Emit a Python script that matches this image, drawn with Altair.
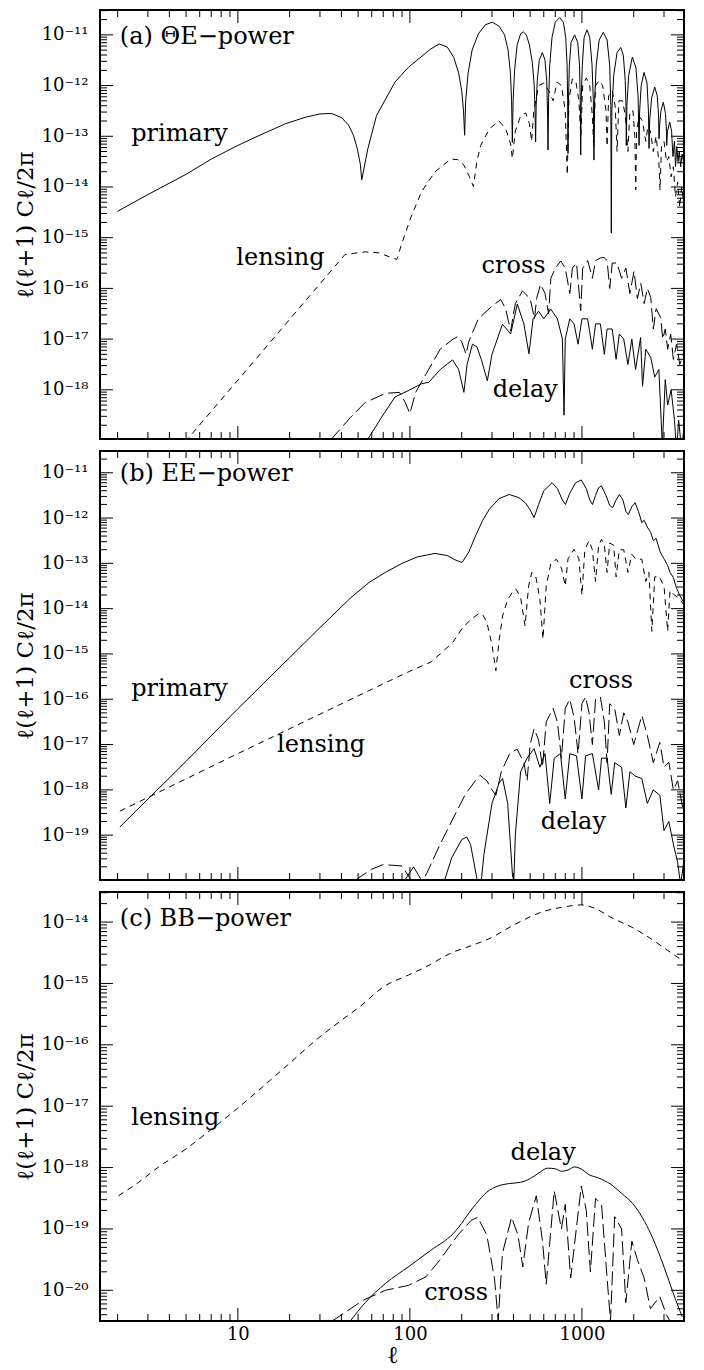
import altair as alt
import pandas as pd

FONT = "DejaVu Serif"
W, H = 584, 429
X_DOMAIN = [1.58, 3920]
Y_LOG_DOMAINS = {"a": (-18.97, -10.51), "b": (-19.99, -10.52), "c": (-20.5, -13.51)}

# ---------------- Panel (a) ThetaE ----------------
a_pri_l = [2, 3, 5, 7, 10, 14, 19, 25, 30, 35, 40, 44, 47, 49.5, 51.5, 52.5,
           57, 64, 82, 98, 132, 148, 165, 180, 192, 200, 205, 208,
           211, 218, 230, 250, 275, 301, 330, 355, 372, 384, 390, 394,
           398, 406, 420, 440, 456, 475, 495, 515, 528, 534, 538,
           542, 550, 565, 589, 610, 624, 631, 635,
           640, 650, 670, 700, 743, 780, 805, 820, 826, 830,
           835, 845, 865, 907, 945, 968, 978, 984,
           990, 1005, 1030, 1070, 1110, 1145, 1165, 1175,
           1185, 1210, 1260, 1330, 1400, 1450, 1472, 1482,
           1492, 1530, 1600, 1680, 1740, 1785, 1803, 1811,
           1825, 1870, 1963, 2060, 2120, 2148,
           2165, 2210, 2296, 2390, 2435, 2455,
           2475, 2540, 2649, 2740, 2790, 2806,
           2825, 2880, 2972, 3060, 3100, 3110,
           3140, 3237, 3320, 3380, 3450, 3500, 3560, 3620, 3680, 3750, 3820, 3900]
a_pri_v = [-14.48, -14.15, -13.75, -13.45, -13.18, -12.95, -12.75, -12.62, -12.56, -12.55, -12.63, -12.78, -12.98, -13.25, -13.55, -13.86,
           -13.24, -12.59, -11.93, -11.64, -11.28, -11.18, -11.24, -11.45, -11.75, -12.1, -12.5, -12.98,
           -12.3, -11.75, -11.3, -10.98, -10.8, -10.75, -10.83, -11.0, -11.3, -11.75, -12.3, -13.12,
           -12.3, -11.7, -11.2, -10.98, -10.94, -11.0, -11.2, -11.55, -12.0, -12.5, -13.11,
           -12.4, -11.9, -11.5, -11.35, -11.5, -11.9, -12.5, -13.27,
           -12.3, -11.6, -11.05, -10.75, -10.66, -10.75, -11.05, -11.6, -12.3, -13.34,
           -12.3, -11.6, -11.15, -11.0, -11.15, -11.6, -12.3, -13.37,
           -12.3, -11.6, -11.05, -10.9, -11.05, -11.6, -12.3, -13.47,
           -12.3, -11.6, -11.1, -10.95, -11.1, -11.6, -12.4, -14.91,
           -12.5, -11.8, -11.35, -11.25, -11.4, -11.9, -12.4, -13.18,
           -12.4, -11.8, -11.44, -11.65, -12.2, -13.18,
           -12.5, -12.0, -11.74, -11.95, -12.5, -13.24,
           -12.7, -12.25, -12.03, -12.2, -12.6, -13.05,
           -12.8, -12.5, -12.33, -12.55, -12.9, -13.18,
           -12.9, -12.72, -12.9, -13.4, -13.1, -13.6, -13.2, -13.5, -13.3, -13.6, -13.35, -13.5]

a_len_l = [4.5, 5.1, 10, 20, 42, 55, 66, 84, 90, 101, 117, 140, 173, 190, 206, 222, 234, 245, 258, 290, 330, 360, 385, 394,
           410, 440, 471, 495, 510, 525, 560, 600, 640, 680, 717, 760, 800, 822, 840, 879, 920, 960, 985, 1010, 1060,
           1110, 1150, 1170, 1200, 1260, 1320, 1380, 1400, 1430, 1500, 1560, 1600, 1640, 1720, 1790, 1850, 1900, 1980,
           2030, 2055, 2080, 2150, 2250, 2350, 2420, 2500, 2600, 2700, 2800, 2844, 2900, 3000, 3100, 3200, 3300, 3400,
           3500, 3600, 3700, 3800, 3900]
a_len_v = [-19.2, -18.97, -17.81, -16.61, -15.33, -15.28, -15.30, -15.43, -15.1, -14.61, -14.09, -13.7, -13.45, -13.46, -13.57, -13.8, -13.99, -13.5, -13.18, -12.85, -12.7, -12.85, -13.15, -13.44,
           -12.9, -12.6, -12.54, -12.75, -13.1, -12.5, -12.0, -11.95, -12.1, -12.3, -11.93, -12.0, -12.5, -13.76, -12.3, -11.87, -11.9, -12.3, -13.0, -12.0, -11.85,
           -12.0, -12.6, -13.2, -12.0, -11.9, -12.0, -12.5, -13.2, -12.2, -12.1, -12.4, -13.3, -12.3, -12.3, -12.6, -13.3, -12.5, -12.5,
           -13.0, -14.06, -12.9, -12.6, -12.7, -13.1, -12.8, -12.9, -13.3, -13.0, -13.5, -14.06, -13.2, -13.1, -13.5, -13.4, -13.8, -13.6,
           -14.2, -13.9, -14.4, -14.0, -14.3]

a_cro_l = [30, 35, 45, 55, 72, 87, 94, 100, 108, 124, 150, 178, 190, 200, 212, 220, 250, 300, 337, 360, 385, 410, 451, 500,
           530, 545, 575, 610, 640, 660, 700, 753, 800, 850, 880, 930, 984, 1010, 1080, 1150, 1200, 1280, 1343, 1400,
           1450, 1500, 1600, 1700, 1800, 1900, 2009, 2100, 2200, 2300, 2400, 2512, 2600, 2700, 2871, 2950, 3050, 3150,
           3280, 3400, 3550, 3700, 3900]
a_cro_v = [-19.3, -18.97, -18.55, -18.25, -18.07, -18.05, -18.25, -18.47, -18.05, -17.69, -17.2, -17.0, -16.95, -17.05, -17.3, -17.05, -16.6, -16.35, -16.22, -16.4, -16.84, -16.3, -16.05, -16.2,
           -16.6, -16.2, -15.92, -16.1, -16.5, -15.8, -15.6, -15.46, -15.6, -16.1, -15.6, -15.5, -16.44, -15.6, -15.45, -15.8, -15.45, -15.4, -15.39, -15.45,
           -16.0, -15.5, -15.5, -15.8, -15.6, -16.1, -15.66, -16.2, -15.9, -16.3, -16.0, -16.18, -16.8, -16.4, -16.58, -17.0, -16.8, -17.2,
           -16.9, -17.4, -17.1, -17.5, -17.3]

a_del_l = [50, 57, 70.6, 82, 100, 117, 129, 150, 177, 192, 206, 215, 231, 245, 260, 282, 300, 345, 365, 385, 421, 460, 492,
           520, 560, 600, 659, 720, 770, 787, 800, 850, 900, 950, 1000, 1080, 1150, 1200, 1280, 1350, 1400, 1500, 1580,
           1650, 1750, 1850, 1950, 2050, 2193, 2250, 2350, 2512, 2650, 2800, 2933, 3050, 3150, 3300, 3450, 3550, 3650,
           3800, 3900]
a_del_v = [-19.3, -18.97, -18.47, -18.14, -18.0, -17.88, -17.85, -17.6, -17.41, -17.6, -18.05, -17.5, -17.1, -17.15, -17.4, -17.82, -17.3, -16.71, -16.8, -16.9, -16.31, -16.7, -17.29,
           -16.6, -16.45, -16.6, -16.41, -16.6, -17.0, -18.5, -17.0, -16.6, -16.7, -17.1, -16.6, -16.6, -17.2, -16.7, -16.7, -17.3, -16.8, -16.8, -17.4,
           -16.9, -17.0, -17.5, -17.0, -17.6, -16.97, -17.93, -17.2, -17.36, -17.75, -17.6, -19.1, -17.8, -18.3, -18.0, -18.6, -19.2, -18.6,
           -19.2, -18.8]

# ---------------- Panel (b) EE ----------------
b_pri_l = [2.06, 5, 10, 20, 30, 45, 58, 72, 90, 110, 140, 165, 185, 201, 220, 241, 265, 289, 330, 378, 430, 468, 500, 527,
           560, 600, 670, 720, 770, 802, 850, 920, 991, 1060, 1110, 1152, 1200, 1250, 1298, 1380, 1450, 1509, 1580, 1652,
           1730, 1800, 1862, 1950, 2037, 2130, 2229, 2300, 2400, 2513, 2600, 2700, 2850, 3010, 3150, 3250, 3396, 3550,
           3718, 3900]
b_pri_v = [-18.82, -17.37, -16.21, -15.08, -14.42, -13.77, -13.42, -13.2, -13.0, -12.86, -12.78, -12.83, -12.93, -12.98, -12.75, -12.39, -12.05, -11.81, -11.57, -11.48, -11.55, -11.66, -11.82, -11.99,
           -11.7, -11.4, -11.22, -11.35, -11.6, -11.70, -11.45, -11.22, -11.16, -11.35, -11.6, -11.70, -11.5, -11.33, -11.29, -11.5, -11.72, -11.77, -11.6, -11.48,
           -11.6, -11.85, -11.92, -11.75, -11.66, -11.85, -12.1, -12.05, -12.2, -12.32, -12.5, -12.45, -12.75, -12.91, -13.05, -13.2, -13.31, -13.55,
           -13.72, -13.86]

b_len_l = [2.06, 10, 30, 60, 100, 132, 150, 178, 200, 227, 250, 264, 280, 300, 316, 330, 346, 370, 400, 414, 440, 467,
           490, 511, 540, 570, 594, 620, 660, 711, 760, 800, 830, 900, 960, 1000, 1040, 1100, 1150, 1200, 1250, 1300,
           1350, 1400, 1450, 1530, 1580, 1650, 1750, 1850, 1950, 2050, 2229, 2350, 2450, 2550, 2650, 2800, 3000, 3150,
           3250, 3400, 3600, 3900]
b_len_v = [-18.47, -17.2, -16.33, -15.78, -15.38, -15.18, -15.0, -14.74, -14.45, -14.23, -14.12, -14.12, -14.3, -14.8, -15.37, -14.7, -14.16, -13.8, -13.6, -13.57, -13.75, -14.38,
           -13.5, -13.2, -13.3, -13.8, -14.67, -13.5, -13.0, -12.91, -13.1, -13.5, -12.9, -12.69, -12.9, -13.7, -12.7, -12.5, -12.7, -13.4, -12.6, -12.47,
           -12.6, -13.2, -12.55, -12.6, -13.3, -12.7, -12.7, -13.2, -12.8, -12.9, -12.91, -13.4, -13.2, -14.5, -13.3, -13.28, -13.5, -14.5,
           -13.6, -13.68, -13.75, -13.9]

b_cro_l = [40, 50, 60, 70, 90, 100, 110, 125, 150, 180, 210, 240, 256, 280, 300, 316, 340, 380, 420, 460, 480, 500, 527,
           560, 590, 620, 680, 720, 760, 800, 850, 900, 950, 1000, 1050, 1100, 1150, 1200, 1280, 1350, 1400, 1450, 1550,
           1650, 1750, 1850, 2000, 2229, 2400, 2600, 2837, 3000, 3200, 3400, 3600, 3900]
b_cro_v = [-20.3, -19.95, -19.75, -19.65, -19.68, -19.95, -20.2, -19.85, -19.2, -18.6, -18.1, -17.8, -17.68, -17.8, -18.0, -18.12, -17.6, -17.2, -17.1, -17.4, -17.8, -17.0, -16.65,
           -16.9, -17.5, -16.5, -16.2, -16.5, -17.3, -16.2, -16.0, -16.4, -17.2, -16.1, -15.95, -16.3, -17.0, -16.0, -15.95, -16.5, -17.4, -16.1, -16.2,
           -16.8, -16.3, -16.5, -17.0, -16.36, -16.8, -17.4, -16.95, -17.5, -17.39, -18.0, -17.8, -18.5]

b_del_l = [80, 95, 105, 115, 125, 150, 175, 200, 214, 225, 245, 255, 270, 300, 330, 346, 370, 395, 402, 410, 440, 480,
           527, 570, 610, 650, 690, 750, 800, 850, 930, 1000, 1050, 1150, 1250, 1300, 1400, 1480, 1550, 1700, 1800,
           1900, 2050, 2229, 2400, 2600, 2837, 3000, 3200, 3400, 3600, 3750, 3900]
b_del_v = [-20.3, -19.95, -19.7, -19.95, -20.3, -20.3, -19.5, -19.1, -19.04, -19.2, -19.95, -20.3, -19.4, -18.3, -17.85, -17.75, -18.3, -19.9, -20.0, -19.0, -17.6, -17.3,
           -17.09, -17.5, -17.2, -18.3, -17.3, -17.2, -18.2, -17.2, -17.25, -18.2, -17.25, -17.2, -18.0, -17.3, -17.3, -18.1, -17.4, -17.5, -18.4,
           -17.6, -17.7, -17.75, -18.3, -18.0, -18.12, -18.9, -18.7, -19.2, -19.6, -20.1, -19.6]

# ---------------- Panel (c) BB ----------------
c_len_l = [2.02, 2.65, 3.5, 4.8, 7, 10, 14, 20, 29.4, 40, 50, 72.5, 95, 120, 178, 230, 289, 400, 594, 800, 991,
           1200, 1466, 2000, 2513, 3000, 3945]
c_len_v = [-18.46, -18.24, -17.98, -17.73, -17.38, -17.03, -16.68, -16.3, -15.89, -15.6, -15.4, -15.03, -14.88, -14.75,
           -14.49, -14.38, -14.27, -14.05, -13.83, -13.75, -13.72, -13.78, -13.92, -14.1, -14.27, -14.42, -14.65]

c_del_l = [44.8, 55, 72, 100, 132, 178, 241, 280, 326, 380, 440, 500, 560, 631, 700, 760, 830, 905, 1000, 1090, 1250,
           1466, 1700, 1978, 2250, 2513, 2850, 3200, 3500, 3830]
c_del_v = [-20.51, -20.2, -19.89, -19.6, -19.35, -19.08, -18.6, -18.4, -18.3, -18.26, -18.24, -18.18, -18.09, -18.01,
           -18.02, -18.06, -18.04, -17.99, -18.03, -18.11, -18.17, -18.27, -18.42, -18.59, -18.82, -19.08, -19.45, -19.84,
           -20.15, -20.43]

c_cro_l = [35, 53.6, 72, 98, 124, 149, 190, 227, 248, 280, 310, 326, 345, 390, 425, 453, 490, 543, 590, 620, 690, 760, 800,
           860, 991, 1060, 1120, 1200, 1300, 1400, 1466, 1550, 1700, 1800, 1950, 2100, 2300, 2500, 2836, 3100, 3400]
c_cro_v = [-20.51, -20.16, -20.0, -19.92, -19.78, -19.51, -19.1, -18.86, -18.81, -19.1, -19.8, -20.49, -19.4, -18.81, -19.1, -19.62, -18.9, -18.46, -19.2, -19.9, -18.38, -19.0, -18.6,
           -19.8, -18.3, -18.7, -19.7, -18.5, -18.6, -19.8, -20.5, -18.8, -19.0, -20.2, -19.2, -19.5, -19.8, -20.3, -20.1, -20.4, -20.6]

# ---------------- annotations ----------------
a_txt = {"t": ["(a) ΘE−power", "primary", "lensing", "cross", "delay"],
         "l": [2.06, 2.4, 9.8, 261, 303], "v": [-11.05, -12.95, -15.40, -15.56, -18.01]}
b_txt = {"t": ["(b) EE−power", "primary", "lensing", "cross", "delay"],
         "l": [2.06, 2.4, 16.9, 841, 577], "v": [-11.02, -15.77, -17.0, -15.59, -18.71]}
c_txt = {"t": ["(c) BB−power", "lensing", "delay", "cross"],
         "l": [2.06, 2.4, 385, 121], "v": [-13.95, -17.19, -17.76, -20.05]}

SHORT = [6, 5]
LONG = [14, 5]

SUP = str.maketrans("0123456789-", "⁰¹²³⁴⁵⁶⁷⁸⁹⁻")
label_list = ["10" + str(-n).translate(SUP) for n in range(0, 23)]
LABEL_EXPR = "[" + ",".join("'" + s + "'" for s in label_list) + "][-round(log(datum.value)/LN10)]"


def make_panel(key, curves, txt, show_x):
    lo, hi = Y_LOG_DOMAINS[key]
    xs = alt.Scale(type="log", domain=X_DOMAIN, nice=False)
    ys = alt.Scale(type="log", domain=[10.0 ** lo, 10.0 ** hi], nice=False)
    ymaj = [10.0 ** n for n in range(-22, -9) if lo <= n <= hi]
    ymin = [k * 10.0 ** n for n in range(-22, -9) for k in range(2, 10)
            if 10.0 ** lo <= k * 10.0 ** n <= 10.0 ** hi]
    xmaj = [10, 100, 1000]
    xmin = [k * 10 ** n for n in range(0, 4) for k in range(2, 10) if X_DOMAIN[0] <= k * 10 ** n <= X_DOMAIN[1]]

    yaxis = alt.Axis(values=ymaj, labelExpr=LABEL_EXPR, ticks=False, domain=False, grid=False,
                     labelFont=FONT, labelFontSize=18, labelPadding=12, labelColor="black",
                     labelFlush=False, labelOverlap=False,
                     title="ℓ(ℓ+1) Cℓ/2π", titleFont=FONT, titleFontSize=23, titleFontWeight="normal",
                     titleColor="black", titleX=-63, titleBaseline="bottom")
    if show_x:
        xaxis = alt.Axis(values=xmaj, format="d", ticks=False, domain=False, grid=False,
                         labelFont=FONT, labelFontSize=18, labelPadding=4, labelColor="black",
                         labelFlush=False, title="ℓ", titleFont=FONT, titleFontSize=24,
                         titleFontWeight="normal", titleColor="black", titlePadding=0)
    else:
        xaxis = None

    X = lambda f: alt.X(f, scale=xs, axis=xaxis)
    Y = lambda f: alt.Y(f, scale=ys, axis=yaxis)

    layers = []
    for ells, vals, dash, smooth in curves:
        df = pd.DataFrame({"ell": ells, "val": [10.0 ** v for v in vals]})
        mk = dict(clip=True, color="black", strokeWidth=1)
        if dash:
            mk["strokeDash"] = dash
        if smooth:
            mk["interpolate"] = "monotone"
        layers.append(alt.Chart(df).mark_line(**mk).encode(x=X("ell:Q"), y=Y("val:Q")))

    tdf = pd.DataFrame({"t": txt["t"], "ell": txt["l"], "val": [10.0 ** v for v in txt["v"]]})
    layers.append(alt.Chart(tdf).mark_text(align="left", baseline="middle", font=FONT, fontSize=24,
                                           color="black").encode(x=X("ell:Q"), y=Y("val:Q"), text="t:N"))

    def yrule(vals, x0, x1):
        return alt.Chart(pd.DataFrame({"val": vals})).mark_rule(color="black", strokeWidth=1).encode(
            y=Y("val:Q"), x=alt.value(x0), x2=alt.value(x1))

    def xrule(vals, y0, y1):
        return alt.Chart(pd.DataFrame({"ell": vals})).mark_rule(color="black", strokeWidth=1).encode(
            x=X("ell:Q"), y=alt.value(y0), y2=alt.value(y1))

    layers += [yrule(ymaj, 0, 13), yrule(ymin, 0, 7), yrule(ymaj, W - 13, W), yrule(ymin, W - 7, W),
               xrule(xmaj, H, H - 13), xrule(xmin, H, H - 7), xrule(xmaj, 0, 13), xrule(xmin, 0, 7)]
    return alt.layer(*layers).properties(width=W, height=H)


pa = make_panel("a", [(a_pri_l, a_pri_v, None, False), (a_len_l, a_len_v, SHORT, False),
                      (a_cro_l, a_cro_v, LONG, False), (a_del_l, a_del_v, None, False)], a_txt, False)
pb = make_panel("b", [(b_pri_l, b_pri_v, None, False), (b_len_l, b_len_v, SHORT, False),
                      (b_cro_l, b_cro_v, LONG, False), (b_del_l, b_del_v, None, False)], b_txt, False)
pc = make_panel("c", [(c_len_l, c_len_v, SHORT, True), (c_del_l, c_del_v, None, True),
                      (c_cro_l, c_cro_v, LONG, False)], c_txt, True)

chart = alt.vconcat(pa, pb, pc, spacing=8).properties(
    padding={"left": 5, "top": 0, "right": 5, "bottom": 0}
).configure_view(stroke="black", strokeWidth=2)

chart.save("out.html", embed_options={"renderer": "svg", "actions": False})
